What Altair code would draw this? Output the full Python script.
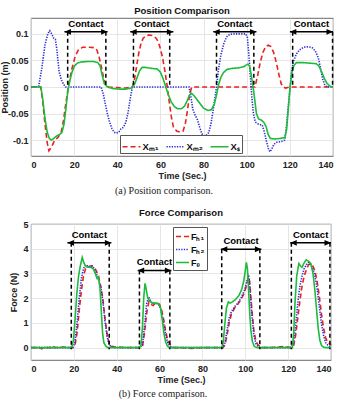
import altair as alt
import pandas as pd

FONT = "Liberation Sans"
SERIF = "Liberation Serif"

# ---------------- Position panel data ----------------
pos_names = ["Xₘ₁", "Xₘ₂", "Xₛ"]
pos_colors = ["#e8221f", "#2b2bd6", "#1dbb3a"]

t_xm1 = [0, 4.5, 5.5, 6.5, 7.5, 8.3, 9.5, 11, 12.5, 14, 15, 16, 17.5, 19, 20.5, 22, 24, 27, 29.5, 30.5,
         31.5, 32.5, 33.5, 34.5, 36, 40, 44, 47, 48, 49, 50, 51, 52, 53.5, 55, 56.5, 58, 59, 60, 61,
         62, 63, 64, 65, 66, 67.5, 69, 70.5, 71.5, 72.5, 73.5, 74.5, 80, 90, 100, 103.8, 105, 106.2, 107.5, 108.8,
         110, 111.2, 112.5, 113.8, 115, 116, 117, 118, 120, 130, 140]
xm1 = [0, 0, -0.03, -0.07, -0.105, -0.12, -0.113, -0.1, -0.095, -0.085, -0.065, -0.035, 0.005, 0.035, 0.058, 0.07, 0.075, 0.075, 0.074, 0.07,
       0.058, 0.04, 0.02, 0.004, 0, -0.001, -0.002, 0, 0.015, 0.04, 0.065, 0.082, 0.092, 0.097, 0.098, 0.097, 0.092, 0.085, 0.072, 0.055,
       0.032, 0.005, -0.025, -0.055, -0.075, -0.083, -0.085, -0.083, -0.07, -0.045, -0.015, 0, 0, 0, 0, 0, 0.02, 0.045, 0.065, 0.076,
       0.079, 0.076, 0.065, 0.045, 0.022, 0.006, 0, -0.002, 0, 0, 0]

t_xm2 = [0, 3.5, 5, 6.5, 7.8, 8.7, 9.6, 10.5, 11.3, 12, 13, 14, 15, 16, 20, 30, 32.5, 33.5, 34.5, 35.5,
         36.5, 37.5, 38.5, 39.6, 40.7, 41.7, 42.8, 44, 45, 46, 47, 55, 65, 73.3, 74.2, 75, 76, 77.2, 78.2, 79.2,
         80.2, 81.2, 82.4, 83.4, 84.4, 85.2, 86, 87, 88, 89.4, 90.6, 92, 94, 97, 99.6, 100.3, 101, 101.7, 102.4, 103.1,
         104, 105.5, 107.2, 108.2, 109.2, 110.2, 110.8, 111.6, 112.6, 114, 116, 117.6, 118.4, 119.2, 120, 120.8, 121.8, 123, 124.5, 126.5,
         128.5, 130.3, 131.8, 133.2, 134.2, 135.2, 136.2, 137.2, 140]
xm2 = [0, 0, 0.035, 0.08, 0.1, 0.106, 0.1, 0.092, 0.09, 0.07, 0.03, 0.014, 0.006, 0, 0, 0, 0, -0.013, -0.033, -0.052,
       -0.067, -0.078, -0.085, -0.087, -0.085, -0.079, -0.076, -0.066, -0.048, -0.022, 0, 0, 0, 0, -0.02, -0.042, -0.052, -0.062, -0.076, -0.088,
       -0.092, -0.091, -0.086, -0.07, -0.045, -0.022, 0, 0.035, 0.06, 0.082, 0.094, 0.099, 0.1, 0.1, 0.1, 0.093, 0.06, 0.02, -0.02, -0.05,
       -0.066, -0.07, -0.072, -0.085, -0.103, -0.118, -0.122, -0.117, -0.108, -0.104, -0.103, -0.1, -0.075, -0.04, -0.005, 0.03, 0.05, 0.062, 0.07, 0.075,
       0.076, 0.074, 0.068, 0.055, 0.035, 0.015, 0.004, 0, 0]

t_xs = [0, 4.6, 5.5, 6.5, 7.5, 8.5, 9.5, 10.5, 11.6, 13, 14.3, 15.3, 16.2, 17, 18, 19, 20.2, 21.5, 23, 26,
        29, 31, 32, 33, 34, 35.5, 38, 41, 44, 46.5, 48, 49.2, 50.3, 51.5, 53, 56, 58.5, 60, 61.3, 62.5,
        63.7, 65, 66.5, 68, 69.7, 71.2, 72.5, 73.5, 74.4, 75.5, 77, 78.5, 80, 82, 83.6, 85, 86, 87, 88, 89.2,
        90.8, 93, 96, 98.5, 100.5, 101.3, 102, 102.8, 103.6, 104.5, 105.5, 107, 108, 109, 110, 111, 113, 115.5, 117.7, 118.5,
        119.2, 120, 120.8, 121.8, 123, 126, 129, 132.2, 133.4, 134.8, 136, 137.2, 138.5, 139.5, 140]
xs = [0, 0, -0.025, -0.06, -0.085, -0.097, -0.1, -0.097, -0.093, -0.09, -0.086, -0.07, -0.04, -0.01, 0.012, 0.028, 0.04, 0.045, 0.047, 0.048,
      0.048, 0.046, 0.04, 0.022, 0.006, 0, -0.003, -0.004, -0.004, -0.002, 0.005, 0.018, 0.03, 0.037, 0.037, 0.035, 0.034, 0.028, 0.015, 0,
      -0.015, -0.028, -0.037, -0.041, -0.041, -0.036, -0.025, -0.015, -0.012, -0.016, -0.024, -0.032, -0.04, -0.044, -0.043, -0.032, -0.015, 0.005, 0.018, 0.027,
      0.033, 0.035, 0.036, 0.038, 0.043, 0.04, 0.025, 0.005, -0.02, -0.05, -0.06, -0.063, -0.067, -0.075, -0.09, -0.097, -0.098, -0.097, -0.095, -0.08,
      -0.045, -0.005, 0.025, 0.04, 0.046, 0.046, 0.045, 0.044, 0.04, 0.028, 0.016, 0.007, 0.002, 0, 0]

pos_contact_start = [17, 47.5, 86, 121.3]
pos_contact_end = [34.7, 64.3, 103.3, 139.8]
pos_arrow_start = [15.5, 46, 84.5, 120]
pos_arrow_end = [35.5, 66, 104.5, 140]
pos_arrow_y = [0.104, 0.104, 0.104, 0.104]
pos_line_base = 0.0

# ---------------- Force panel data ----------------
frc_names = ["Fₕ₁", "Fₕ₂", "Fₑ"]
frc_colors = ["#e8221f", "#2b2bd6", "#1dbb3a"]

t_fh = [0, 4, 5, 6, 9, 10, 11, 15, 19.5, 20.5, 21.5, 22.5, 23.5, 24.5, 25.5, 26.5, 27.5, 28.5, 29.5, 30.5,
        31.5, 32.5, 33.5, 34.5, 35.5, 36.5, 37.5, 39, 45, 50, 52, 53, 54, 55, 56, 57, 58, 59, 60, 61,
        62, 63, 64, 65, 66, 67, 70, 75, 80, 85, 89.5, 90.5, 91.5, 92.5, 93.5, 95, 96.5, 98, 99.5, 100.5,
        101.5, 102, 103, 104, 105, 106, 107, 108, 112, 118, 121, 122.5, 123.5, 124.5, 125.5, 126.5, 127.5, 128.5, 129.5, 130.5,
        131.5, 132.5, 133.5, 134.5, 135.5, 136.5, 137.5, 138.5, 139.5, 140]
fh1 = [0, 0, -0.05, 0, 0, 0.08, 0, 0.02, 0, 0.08, 0.6, 1.5, 2.3, 2.9, 3.2, 3.25, 3.3, 3.3, 3.25, 3.1,
       2.9, 2.5, 2.0, 1.2, 0.55, 0.15, 0.05, 0.03, 0, 0, 0.05, 0.6, 1.4, 1.85, 1.75, 1.7, 1.8, 1.8, 1.75, 1.5,
       1.1, 0.6, 0.25, 0.12, 0.05, 0, 0, -0.03, 0, 0, 0, 0.1, 0.5, 1.0, 1.35, 1.6, 1.75, 1.95, 2.2, 2.5,
       2.85, 2.7, 1.6, 0.7, 0.25, 0.1, 0.05, 0, 0, 0.05, 0, 0.05, 0.5, 1.2, 1.9, 2.5, 2.9, 3.15, 3.35, 3.4,
       3.3, 3.1, 2.7, 2.1, 1.4, 0.8, 0.4, 0.2, 0.15, 0.1]
fh2 = [0, 0, 0, 0, 0, 0, 0, 0, 0, 0.2, 1.0, 2.0, 2.8, 3.2, 3.35, 3.3, 3.25, 3.3, 3.2, 3.0,
       2.75, 2.5, 1.9, 1.1, 0.45, 0.12, 0.03, 0, 0, 0, 0.1, 0.9, 1.8, 2.05, 1.85, 1.8, 1.8, 1.78, 1.7, 1.4,
       0.9, 0.45, 0.15, 0.05, 0, 0, 0, 0, 0, 0, 0, 0.2, 0.7, 1.2, 1.45, 1.65, 1.8, 2.0, 2.3, 2.6,
       2.95, 2.6, 1.4, 0.5, 0.15, 0.05, 0, 0, 0, 0, 0, 0.15, 0.9, 1.8, 2.5, 2.9, 3.2, 3.35, 3.45, 3.35,
       3.2, 2.9, 2.4, 1.7, 1.0, 0.5, 0.2, 0.1, 0.05, 0.05]

t_fe = [0, 19, 19.8, 20.6, 21.4, 22.2, 23, 23.9, 24.6, 25.4, 26.5, 27.7, 29, 30, 30.8, 31.5, 32.2, 32.8, 33.4, 34,
        35, 36, 50, 51.3, 52, 52.6, 53.2, 53.8, 54.5, 55.3, 56.5, 58, 59.5, 60.5, 61.3, 62, 62.8, 63.5, 64.5, 89,
        89.7, 90.4, 91.2, 92.1, 93, 94, 95.5, 97, 98.3, 99.3, 100, 100.5, 101, 101.5, 102, 102.6, 103.3, 104.2, 105.5, 122,
        122.6, 123.2, 124, 125, 125.8, 126.5, 127.3, 128.4, 129.5, 130.6, 131.6, 132.5, 133.3, 134, 134.8, 135.6, 136.5, 137.5, 140]
fe = [0, 0, 0.3, 1.2, 2.2, 2.9, 3.3, 3.65, 3.45, 3.3, 3.25, 3.25, 3.2, 3.0, 2.8, 2.85, 2.4, 1.5, 0.6, 0.2,
      0.05, 0, 0, 0.05, 0.8, 2.0, 2.6, 2.35, 2.0, 1.9, 1.8, 1.8, 1.78, 1.6, 1.1, 0.6, 0.25, 0.08, 0, 0,
      0.2, 0.9, 1.6, 1.85, 1.8, 1.85, 1.95, 2.1, 2.35, 2.7, 3.1, 3.45, 3.2, 2.4, 1.5, 0.7, 0.25, 0.05, 0, 0,
      0.6, 1.8, 2.9, 3.4, 3.3, 3.25, 3.4, 3.55, 3.5, 3.4, 3.0, 2.3, 1.5, 0.8, 0.3, 0.08, 0.02, 0, 0]

frc_contact_start = [18.8, 50.6, 89, 121.5]
frc_contact_end = [36.5, 64.8, 106.8, 139.5]
frc_arrow_start = [17, 49.8, 88.6, 121]
frc_arrow_end = [37.5, 65.5, 107.5, 140]
frc_arrow_y = [4.24, 3.12, 3.98, 4.24]
frc_line_base = -0.07

x_ticks = [0, 20, 40, 60, 80, 100, 120, 140]
pos_ticks = [-0.1, -0.05, 0, 0.05, 0.1]
frc_ticks = [0, 1, 2, 3, 4, 5]

# ---------------- tables ----------------
pos_df = pd.concat([
    pd.DataFrame({"t": t_xm1, "v": xm1, "s": pos_names[0]}),
    pd.DataFrame({"t": t_xm2, "v": xm2, "s": pos_names[1]}),
    pd.DataFrame({"t": t_xs, "v": xs, "s": pos_names[2]}),
], ignore_index=True)
frc_df = pd.concat([
    pd.DataFrame({"t": t_fh, "v": fh1, "s": frc_names[0]}),
    pd.DataFrame({"t": t_fh, "v": fh2, "s": frc_names[1]}),
    pd.DataFrame({"t": t_fe, "v": fe, "s": frc_names[2]}),
], ignore_index=True)


def contact_tables(cs, ce, a_s, a_e, ay, base):
    arrows = pd.DataFrame({"a0": a_s, "a1": a_e, "y": ay})
    arrows["mid"] = (arrows["a0"] + arrows["a1"]) / 2
    arrows["label"] = "Contact"
    vlines = pd.DataFrame({"x": cs + ce, "y": ay + ay, "base": [base] * (2 * len(cs))})
    return arrows, vlines


LEFT_HEAD = "M0,0 L2,-0.9 L2,0.9 Z"
RIGHT_HEAD = "M0,0 L-2,-0.9 L-2,0.9 Z"


def panel(df, names, colors, legend, ydom, yticks, ytitle, ytitle_x, arrows, vlines,
          title, caption, cap_x, cap_y, width, height):
    xsc = alt.Scale(domain=[0, 140], nice=False, zero=False)
    ysc = alt.Scale(domain=ydom, nice=False, zero=False)
    xax = alt.Axis(values=x_ticks, title="Time (Sec.)", labelPadding=4, titlePadding=2)
    yax = alt.Axis(values=yticks, title=ytitle, labelExpr="'' + datum.value",
                   labelPadding=3, titleX=ytitle_x, titleBaseline="middle")

    def X(f):
        return alt.X(f, type="quantitative", scale=xsc, axis=xax)

    def Y(f):
        return alt.Y(f, type="quantitative", scale=ysc, axis=yax)

    lines = alt.Chart(df).mark_line(strokeWidth=1.6).encode(
        x=X("t"), y=Y("v"),
        color=alt.Color("s:N", scale=alt.Scale(domain=names, range=colors), legend=legend),
        strokeDash=alt.StrokeDash("s:N", scale=alt.Scale(domain=names, range=[[5, 3], [1.3, 1.3], [1, 0]]),
                                  legend=legend),
    )
    vl = alt.Chart(vlines).mark_rule(color="black", strokeDash=[4, 3], strokeWidth=1.5).encode(
        x=X("x"), y=Y("y"), y2="base")
    shaft = alt.Chart(arrows).mark_rule(color="black", strokeWidth=1.5).encode(
        x=X("a0"), x2="a1", y=Y("y"))
    lh = alt.Chart(arrows).mark_point(shape=LEFT_HEAD, filled=True, size=42, color="black", opacity=1).encode(
        x=X("a0"), y=Y("y"))
    rh = alt.Chart(arrows).mark_point(shape=RIGHT_HEAD, filled=True, size=42, color="black", opacity=1).encode(
        x=X("a1"), y=Y("y"))
    lab = alt.Chart(arrows).mark_text(font=FONT, fontSize=9.5, fontWeight="bold", dy=-8, color="black").encode(
        x=X("mid"), y=Y("y"), text="label:N")
    cap = alt.Chart(pd.DataFrame({"c": [caption]})).mark_text(font=SERIF, fontSize=10, color="#222").encode(
        x=alt.value(cap_x), y=alt.value(cap_y), text="c:N")
    return alt.layer(lines, vl, shaft, lh, rh, lab, cap).properties(
        width=width, height=height,
        title=alt.TitleParams(title, font=FONT, fontSize=9.5, fontWeight="bold", anchor="middle", offset=3,
                              color="#111"))


def make_legend(x, y, horizontal):
    kw = dict(title=None, orient="none", legendX=x, legendY=y, symbolType="stroke",
              symbolStrokeWidth=1.6, labelFont=FONT, labelFontWeight="bold",
              labelColor="#111", fillColor="white", strokeColor="#555", labelOffset=1)
    if horizontal:
        kw.update(direction="horizontal", columns=3, symbolSize=324, columnPadding=3,
                  labelFontSize=9.5, padding=1.5)
    else:
        kw.update(direction="vertical", symbolSize=169, rowPadding=0, labelFontSize=9, padding=2)
    return alt.Legend(**kw)


pos_arrows, pos_vlines = contact_tables(pos_contact_start, pos_contact_end, pos_arrow_start,
                                        pos_arrow_end, pos_arrow_y, pos_line_base)
frc_arrows, frc_vlines = contact_tables(frc_contact_start, frc_contact_end, frc_arrow_start,
                                        frc_arrow_end, frc_arrow_y, frc_line_base)

top = panel(pos_df, pos_names, pos_colors, make_legend(89, 117, True), [-0.13, 0.13], pos_ticks,
            "Position (m)", -26.5, pos_arrows, pos_vlines, "Position Comparison",
            "(a) Position comparison.", 133, 173, 302, 138)
bottom = panel(frc_df, frc_names, frc_colors, make_legend(142, 3, False), [-0.5, 5], frc_ticks,
               "Force (N)", -18, frc_arrows, frc_vlines, "Force Comparison",
               "(b) Force comparison.", 132, 170, 300, 136)

chart = alt.vconcat(top, bottom, spacing=68, bounds="flush").resolve_scale(
    color="independent", strokeDash="independent"
).resolve_legend(
    color="independent", strokeDash="independent"
).configure(
    padding={"left": 0, "top": 5, "right": 0, "bottom": 0}
).configure_view(stroke="#444", strokeWidth=0.8).configure_axis(
    labelFont=FONT, labelFontSize=9, labelFontWeight="bold", labelColor="#222",
    titleFont=FONT, titleFontSize=9, titleFontWeight="bold", titleColor="#222",
    gridColor="#e0e0e0", gridWidth=0.8, domain=False, ticks=False,
)

chart.save("out.html", embed_options={"renderer": "svg", "actions": False})
